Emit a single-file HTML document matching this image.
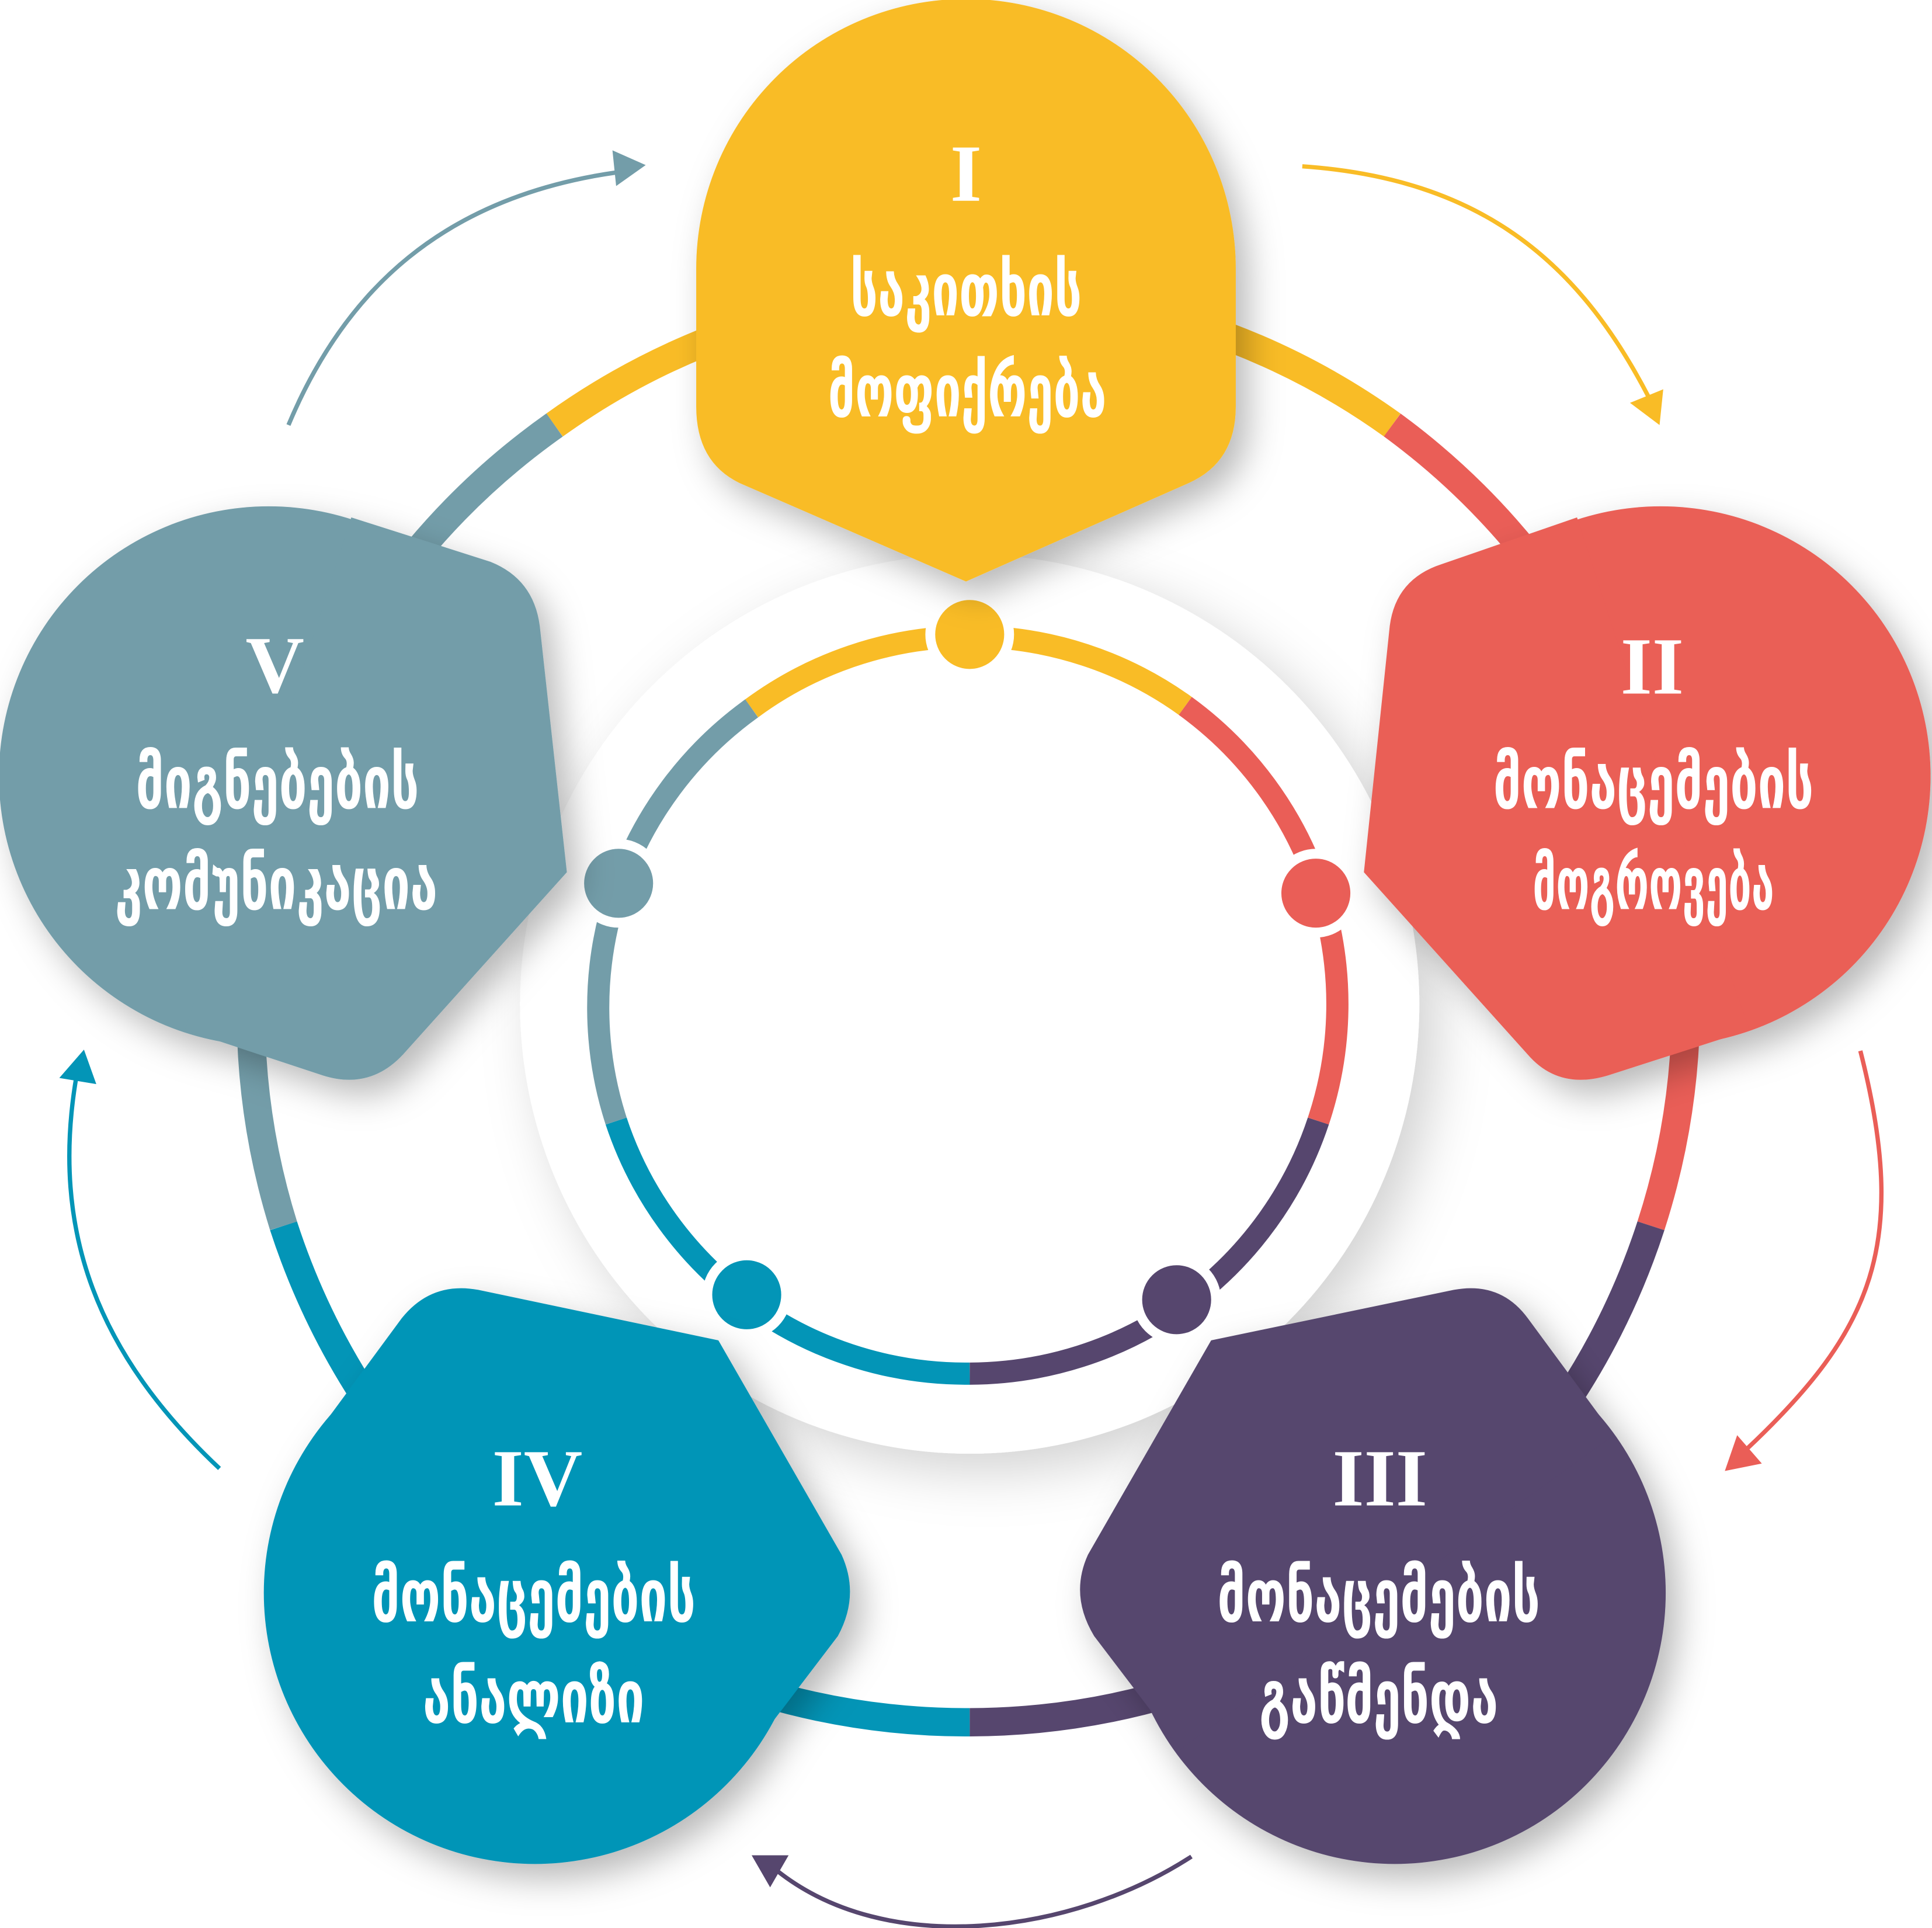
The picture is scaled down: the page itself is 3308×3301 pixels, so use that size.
<!DOCTYPE html>
<html><head><meta charset="utf-8">
<style>
html,body{margin:0;padding:0;background:#fff;}
svg{display:block;}
.num{font-family:"Liberation Serif",serif;font-weight:bold;font-size:66px;fill:#fff;text-anchor:middle;}
.ka{font-family:"DejaVu Sans Condensed","DejaVu Sans",sans-serif;font-weight:bold;font-size:60px;fill:#fff;text-anchor:middle;}
</style></head>
<body>
<svg width="3308" height="3301" viewBox="0 0 1568 1565" xmlns="http://www.w3.org/2000/svg">
<defs>
<filter id="sh" x="-30%" y="-30%" width="160%" height="160%">
<feDropShadow dx="10" dy="12" stdDeviation="14" flood-color="#000" flood-opacity="0.28"/>
</filter>
<filter id="sh2" x="-30%" y="-30%" width="160%" height="160%">
<feDropShadow dx="14" dy="14" stdDeviation="22" flood-color="#000" flood-opacity="0.18"/>
</filter>
</defs>
<rect width="1568" height="1565" fill="#fff"/>

<circle cx="787" cy="815" r="365" fill="#fff" filter="url(#sh2)"/>

<g fill="none" stroke-width="23">
<path d="M450,345 A583,583 0 0 1 1130,345" stroke="#F9BC26"/>
<path d="M1130,345 A583,583 0 0 1 1340,995" stroke="#EA5E57"/>
<path d="M1340,995 A583,583 0 0 1 787,1398" stroke="#56466E"/>
<path d="M787,1398 A583,583 0 0 1 230,995" stroke="#0395B7"/>
<path d="M230,995 A583,583 0 0 1 450,345" stroke="#739DA9"/>
</g>

<g fill="none" stroke-width="18">
<path d="M610,575 A299,299 0 0 1 962,573" stroke="#F9BC26"/>
<path d="M962,573 A299,299 0 0 1 1070,910" stroke="#EA5E57"/>
<path d="M1070,910 A299,299 0 0 1 787,1115" stroke="#56466E"/>
<path d="M787,1115 A299,299 0 0 1 500,910" stroke="#0395B7"/>
<path d="M500,910 A299,299 0 0 1 610,575" stroke="#739DA9"/>
</g>
<g stroke="#fff" stroke-width="8">
<circle cx="787" cy="515" r="32" fill="#F9BC26"/>
<circle cx="1068" cy="725" r="32" fill="#EA5E57"/>
<circle cx="955" cy="1055" r="32" fill="#56466E"/>
<circle cx="606" cy="1051" r="32" fill="#0395B7"/>
<circle cx="502" cy="717" r="32" fill="#739DA9"/>
</g>

<!-- nodes -->
<path filter="url(#sh)" fill="#F9BC26" d="M565,218 A219,219 0 0 1 1003,218 L1003,330 Q1003,375 965,392 L784,472 L600,392 Q565,375 565,330 Z"/>
<g filter="url(#sh)" fill="#EA5E57">
<circle cx="1348" cy="630" r="219"/>
<path d="M1348,630 L1280,420 L1170,458 Q1133,470 1128,508 L1107,708 L1240,856 Q1265,885 1305,873 L1420,836 Z"/>
</g>
<g filter="url(#sh)" fill="#739DA9">
<circle cx="218" cy="630" r="219"/>
<path d="M218,630 L285,420 L398,456 Q433,470 438,508 L460,708 L327,856 Q300,885 262,873 L150,836 Z"/>
</g>
<g filter="url(#sh)" fill="#56466E">
<circle cx="1132" cy="1293" r="220"/>
<path d="M1132,1293 L1310,1165 L1240,1070 Q1218,1040 1180,1047 L983,1088 L883,1262 Q868,1295 888,1328 L958,1420 Z"/>
</g>
<g filter="url(#sh)" fill="#0395B7">
<circle cx="434" cy="1293" r="220"/>
<path d="M434,1293 L256,1165 L326,1070 Q350,1040 388,1047 L583,1088 L683,1262 Q698,1295 680,1328 L610,1420 Z"/>
</g>

<g fill="none" stroke-width="3.5">
<path d="M234,345 C280,235 360,160 500,140" stroke="#739DA9"/>
<path d="M1057,135 C1200,145 1280,210 1338,322" stroke="#F9BC26"/>
<path d="M1510,853 C1550,1010 1520,1080 1418,1176" stroke="#EA5E57"/>
<path d="M967,1507 C870,1570 720,1590 630,1518" stroke="#56466E"/>
<path d="M178,1192 C80,1100 40,1000 62,873" stroke="#0395B7"/>
</g>
<polygon points="497,122 524,134 500,151" fill="#739DA9"/>
<polygon points="1323,327 1350,316 1347,345" fill="#F9BC26"/>
<polygon points="1410,1165 1430,1188 1400,1194" fill="#EA5E57"/>
<polygon points="610,1506 640,1506 625,1532" fill="#56466E"/>
<polygon points="48,875 68,852 78,880" fill="#0395B7"/>

<text class="num" x="784" y="163">I</text>
<text class="ka" x="784" y="256" textLength="188" lengthAdjust="spacingAndGlyphs">საკითხის</text>
<text class="ka" x="785" y="338" textLength="226" lengthAdjust="spacingAndGlyphs">მოფიქრება</text>

<text class="num" x="1341" y="563">II</text>
<text class="ka" x="1342" y="656" textLength="260" lengthAdjust="spacingAndGlyphs">მონაცემების</text>
<text class="ka" x="1342" y="738" textLength="196" lengthAdjust="spacingAndGlyphs">მოგროვება</text>

<text class="num" x="1120" y="1222">III</text>
<text class="ka" x="1119" y="1316" textLength="262" lengthAdjust="spacingAndGlyphs">მონაცემების</text>
<text class="ka" x="1119" y="1398" textLength="194" lengthAdjust="spacingAndGlyphs">გაწმენდა</text>

<text class="num" x="436" y="1222">IV</text>
<text class="ka" x="433" y="1316" textLength="263" lengthAdjust="spacingAndGlyphs">მონაცემების</text>
<text class="ka" x="433" y="1398" textLength="180" lengthAdjust="spacingAndGlyphs">ანალიზი</text>

<text class="num" x="223" y="562">V</text>
<text class="ka" x="225" y="656" textLength="230" lengthAdjust="spacingAndGlyphs">მიგნებების</text>
<text class="ka" x="224" y="738" textLength="262" lengthAdjust="spacingAndGlyphs">კომუნიკაცია</text>
</svg>
</body></html>
